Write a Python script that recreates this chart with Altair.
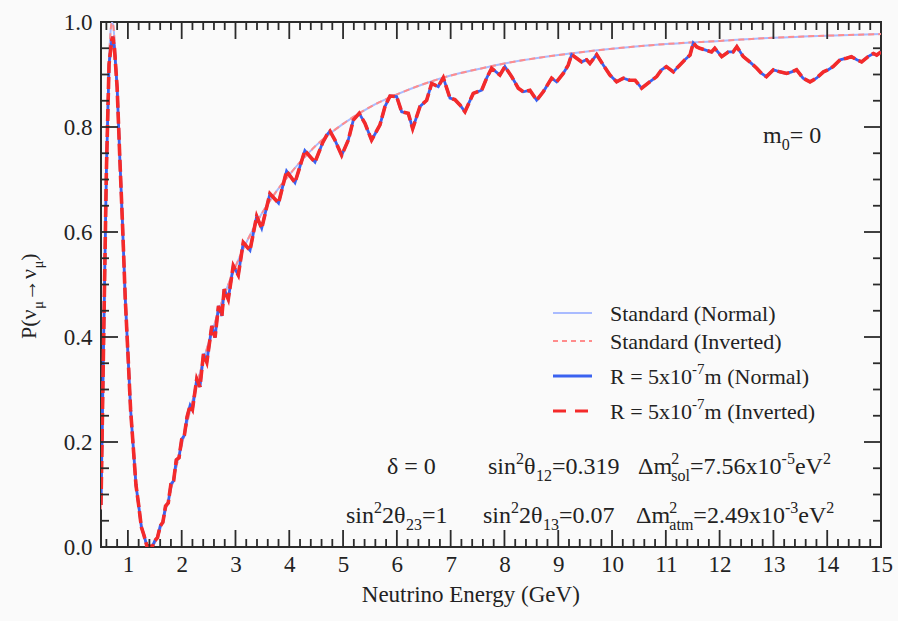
import altair as alt
import pandas as pd

# ------------------------------------------------------------------ data
# Standard oscillation curve
E_std = [0.5, 0.525, 0.55, 0.575, 0.6, 0.625, 0.65, 0.675, 0.7, 0.725, 0.75, 0.775, 0.8, 0.85, 0.9,
         0.95, 1.0, 1.05, 1.1, 1.15, 1.2, 1.25, 1.3, 1.35, 1.4,
         1.45, 1.5, 1.6, 1.7, 1.8, 1.9, 2.0, 2.2, 2.4, 2.6,
         2.8, 3.0, 3.25, 3.5, 3.75, 4.0, 4.5, 5.0, 5.5, 6.0,
         6.5, 7.0, 7.5, 8.0, 9.0, 10.0, 11.0, 12.0, 13.0, 14.0, 15.0]
P_std = [0.072, 0.217, 0.391, 0.566, 0.719, 0.841, 0.927, 0.978, 0.999, 0.995, 0.967, 0.925, 0.871, 0.744, 0.610,
         0.481, 0.366, 0.268, 0.187, 0.124, 0.076, 0.042, 0.019, 0.005, 0.000,
         0.002, 0.008, 0.033, 0.069, 0.109, 0.153, 0.194, 0.278, 0.354, 0.422,
         0.482, 0.534, 0.590, 0.637, 0.676, 0.709, 0.765, 0.806, 0.838, 0.862,
         0.882, 0.898, 0.910, 0.921, 0.937, 0.949, 0.958, 0.964, 0.970, 0.974, 0.977]

# R = 5x10^-7 m curve
E_r = [0.50, 0.55, 0.60, 0.65, 0.70, 0.72, 0.75, 0.80, 0.85, 0.90,
       0.95, 1.00, 1.05, 1.10, 1.15, 1.20, 1.25, 1.30, 1.35, 1.40,
       1.45, 1.50, 1.55, 1.60, 1.65, 1.70, 1.75, 1.80, 1.85, 1.90,
       1.95, 2.00, 2.05, 2.10, 2.157, 2.20, 2.28, 2.34, 2.405, 2.467,
       2.56, 2.62, 2.684, 2.747, 2.79, 2.866, 2.959, 3.052, 3.145, 3.27,
       3.394, 3.487, 3.64, 3.80, 3.95, 4.106, 4.29, 4.478, 4.62, 4.70,
       4.757, 4.849, 4.974, 5.097, 5.19, 5.30, 5.407, 5.53, 5.686, 5.779,
       5.872, 5.996, 6.089, 6.212, 6.294, 6.43, 6.554, 6.647, 6.77, 6.863,
       6.987, 7.08, 7.173, 7.266, 7.42, 7.576, 7.669, 7.762, 7.916, 8.009,
       8.134, 8.257, 8.35, 8.474, 8.598, 8.721, 8.877, 8.97, 9.093, 9.186,
       9.249, 9.342, 9.435, 9.528, 9.589, 9.714, 9.837, 9.961, 10.085, 10.21,
       10.33, 10.43, 10.55, 10.70, 10.83, 10.92, 11.01, 11.14, 11.23, 11.355,
       11.45, 11.51, 11.57, 11.63, 11.727, 11.85, 11.91, 12.04, 12.16, 12.25,
       12.32, 12.44, 12.56, 12.69, 12.78, 12.87, 13.0, 13.12, 13.245, 13.34,
       13.43, 13.55, 13.68, 13.80, 13.93, 14.02, 14.11, 14.24, 14.36, 14.45,
       14.55, 14.64, 14.76, 14.86, 14.92, 15.0]
P_r = [0.08, 0.40, 0.715, 0.92, 0.965, 0.972, 0.95, 0.875, 0.74, 0.615,
       0.475, 0.37, 0.262, 0.19, 0.118, 0.08, 0.038, 0.022, 0.003, 0.002,
       0.0, 0.012, 0.018, 0.04, 0.047, 0.078, 0.084, 0.12, 0.126, 0.166,
       0.17, 0.205, 0.213, 0.248, 0.270, 0.262, 0.320, 0.305, 0.368, 0.352,
       0.421, 0.399, 0.459, 0.440, 0.491, 0.472, 0.536, 0.518, 0.580, 0.565,
       0.630, 0.607, 0.673, 0.655, 0.716, 0.694, 0.755, 0.733, 0.770, 0.785,
       0.792, 0.775, 0.746, 0.775, 0.813, 0.826, 0.807, 0.775, 0.804, 0.839,
       0.859, 0.858, 0.829, 0.826, 0.797, 0.839, 0.851, 0.883, 0.877, 0.894,
       0.855, 0.852, 0.842, 0.829, 0.864, 0.870, 0.893, 0.912, 0.899, 0.915,
       0.896, 0.874, 0.867, 0.870, 0.851, 0.867, 0.893, 0.886, 0.902, 0.918,
       0.938, 0.931, 0.924, 0.928, 0.921, 0.938, 0.918, 0.899, 0.886, 0.893,
       0.889, 0.889, 0.874, 0.886, 0.896, 0.909, 0.915, 0.905, 0.915, 0.928,
       0.937, 0.960, 0.953, 0.950, 0.947, 0.943, 0.950, 0.934, 0.943, 0.943,
       0.953, 0.934, 0.924, 0.912, 0.902, 0.896, 0.909, 0.905, 0.902, 0.905,
       0.909, 0.893, 0.886, 0.893, 0.905, 0.909, 0.915, 0.928, 0.931, 0.934,
       0.928, 0.924, 0.934, 0.940, 0.937, 0.943]

x_tick_labels = list(range(1, 16))
y_tick_labels = [0.0, 0.2, 0.4, 0.6, 0.8, 1.0]

series_labels = [
    [("n", "Standard (Normal)")],
    [("n", "Standard (Inverted)")],
    [("n", "R = 5x10"), ("sup", "-7"), ("n", "m (Normal)")],
    [("n", "R = 5x10"), ("sup", "-7"), ("n", "m (Inverted)")],
]
x_title = "Neutrino Energy (GeV)"
y_title = [("n", "P(ν"), ("sub", "μ"), ("n", "→ν"), ("sub", "μ"), ("n", ")")]
m0_label = [("n", "m"), ("sub", "0"), ("n", " = 0")]
delta_label = [("n", "δ = 0")]
s12_label = [("n", "sin"), ("sup", "2"), ("n", "θ"), ("sub", "12"), ("n", "=0.319")]
dmsol_label = [("n", "Δm"), ("ss", "2", "sol"), ("n", "=7.56x10"), ("sup", "-5"), ("n", "eV"), ("sup", "2")]
s23_label = [("n", "sin"), ("sup", "2"), ("n", "2θ"), ("sub", "23"), ("n", "=1")]
s13_label = [("n", "sin"), ("sup", "2"), ("n", "2θ"), ("sub", "13"), ("n", "=0.07")]
dmatm_label = [("n", "Δm"), ("ss", "2", "atm"), ("n", "=2.49x10"), ("sup", "-3"), ("n", "eV"), ("sup", "2")]

# ------------------------------------------------------------------ layout / style
W, H = 780, 525
X0, X1 = 0.5, 15.0
SERIF = "Liberation Serif, Times New Roman, Times, DejaVu Serif, serif"
TXT = "#222222"
FRAME = "#2b2b2b"
BG = "#fafafa"
C_STD_N, C_STD_I = "#a9bbff", "#ff8c8c"
C_R_N, C_R_I = "#3a62f0", "#f42a2a"

XS = alt.Scale(domain=[X0, X1], nice=False, zero=False)
YS = alt.Scale(domain=[0, 1], nice=False, zero=False)
XAX = alt.Axis(values=x_tick_labels, labelFont=SERIF, labelFontSize=23, labelColor=TXT,
               ticks=False, tickSize=0, domain=False, grid=False, title=None, labelPadding=6,
               labelFlush=False, labelOverlap=False)
YAX = alt.Axis(values=y_tick_labels, format=".1f", labelFont=SERIF, labelFontSize=23, labelColor=TXT,
               ticks=False, tickSize=0, domain=False, grid=False, title=None, labelPadding=9,
               labelFlush=False, labelOverlap=False)


def xenc():
    return alt.X("E:Q", scale=XS, axis=XAX)


def yenc():
    return alt.Y("P:Q", scale=YS, axis=YAX)


def to_data(px, py):
    return X0 + px / W * (X1 - X0), 1 - py / H


CW = {' ': 250, '(': 333, ')': 333, '.': 250, '=': 564, '-': 333, 'x': 500, 'e': 444, 'V': 722,
      's': 389, 'i': 278, 'n': 500, 'm': 778, 'l': 278, 'o': 500, 'a': 444, 't': 278, 'd': 500,
      'r': 333, 'S': 556, 'N': 722, 'I': 333, 'R': 667, 'v': 500, 'δ': 500, 'θ': 500, 'Δ': 612,
      'μ': 520, 'ν': 480, '→': 1000, 'P': 556, 'E': 611, 'G': 722, 'u': 500, 'g': 500, 'y': 500}


def tw(s, size):
    return sum(CW.get(c, 500) for c in s) / 1000 * size


def compose(pieces, x0, y0, base, rotate=False):
    small = round(base * 0.68)
    rows, pos = [], 0.0

    def put(text, size, dy, adv):
        if rotate:
            px, py = x0 + dy, y0 - pos
        else:
            px, py = x0 + pos, y0 + dy
        e, p = to_data(px, py)
        rows.append({"text": text, "E": e, "P": p, "size": size})
        return adv

    for pc in pieces:
        kind = pc[0]
        if kind == "n":
            pos += put(pc[1], base, 0, tw(pc[1], base))
        elif kind == "sup":
            pos += put(pc[1], small, -0.42 * base, tw(pc[1], small))
        elif kind == "sub":
            pos += put(pc[1], small, 0.30 * base, tw(pc[1], small))
        elif kind == "ss":
            a = put(pc[1], small, -0.42 * base, tw(pc[1], small))
            b = put(pc[2], small, 0.30 * base, tw(pc[2], small))
            pos += max(a, b)
    return rows


layers = []

# ---- curves
df_std = pd.DataFrame({"E": E_std, "P": P_std})
df_r = pd.DataFrame({"E": E_r, "P": P_r})
layers.append(alt.Chart(df_std).mark_line(color=C_STD_N, strokeWidth=2, interpolate="monotone", clip=True)
              .encode(x=xenc(), y=yenc()))
layers.append(alt.Chart(df_std).mark_line(color=C_STD_I, strokeWidth=2, strokeDash=[6, 4],
                                          interpolate="monotone", clip=True)
              .encode(x=xenc(), y=yenc()))
layers.append(alt.Chart(df_r).mark_line(color=C_R_N, strokeWidth=2.8, clip=True)
              .encode(x=xenc(), y=yenc()))
layers.append(alt.Chart(df_r).mark_line(color=C_R_I, strokeWidth=3.6, strokeDash=[12, 4], clip=True)
              .encode(x=xenc(), y=yenc()))

# ---- inward ticks on all four sides
x_major = [v for v in x_tick_labels if X0 < v < X1]
x_minor = [round(0.6 + 0.2 * i, 1) for i in range(72)]
x_minor = [v for v in x_minor if abs(v - round(v)) > 1e-6]
y_major = [0.2, 0.4, 0.6, 0.8]
y_minor = [round(0.05 * i, 2) for i in range(1, 20)]
y_minor = [v for v in y_minor if abs(v / 0.2 - round(v / 0.2)) > 1e-6]
for vals, ln in ((x_major, 17), (x_minor, 8)):
    d = pd.DataFrame({"E": vals})
    layers.append(alt.Chart(d).mark_rule(color=FRAME, strokeWidth=1.8)
                  .encode(x=xenc(), y=alt.value(H), y2=alt.value(H - ln)))
    layers.append(alt.Chart(d).mark_rule(color=FRAME, strokeWidth=1.8)
                  .encode(x=xenc(), y=alt.value(0), y2=alt.value(ln)))
for vals, ln in ((y_major, 17), (y_minor, 8)):
    d = pd.DataFrame({"P": vals})
    layers.append(alt.Chart(d).mark_rule(color=FRAME, strokeWidth=1.8)
                  .encode(y=yenc(), x=alt.value(0), x2=alt.value(ln)))
    layers.append(alt.Chart(d).mark_rule(color=FRAME, strokeWidth=1.8)
                  .encode(y=yenc(), x=alt.value(W), x2=alt.value(W - ln)))

# ---- legend (drawn inside the plot)
leg_rows_y = [291, 319, 354, 389]
leg_styles = [
    dict(color=C_STD_N, strokeWidth=2),
    dict(color=C_STD_I, strokeWidth=2, strokeDash=[5, 4]),
    dict(color=C_R_N, strokeWidth=3),
    dict(color=C_R_I, strokeWidth=3.2, strokeDash=[13, 9]),
]
text_rows = []
for yy, st, lab in zip(leg_rows_y, leg_styles, series_labels):
    layers.append(alt.Chart(pd.DataFrame({"k": [0]})).mark_rule(**st)
                  .encode(x=alt.value(452), x2=alt.value(491), y=alt.value(yy)))
    text_rows += compose(lab, 509, yy + 7.5, 22)

# ---- annotations
text_rows += compose(m0_label, 662, 121, 24)
text_rows += compose(delta_label, 286, 452, 24)
text_rows += compose(s12_label, 387, 452, 24)
text_rows += compose(dmsol_label, 537, 452, 24)
text_rows += compose(s23_label, 245, 501, 24)
text_rows += compose(s13_label, 382, 501, 24)
text_rows += compose(dmatm_label, 535, 501, 24)
text_rows += compose([("n", x_title)], 370 - tw(x_title, 23) / 2, 580, 23)

df_text = pd.DataFrame(text_rows)
layers.append(alt.Chart(df_text).mark_text(align="left", baseline="alphabetic", font=SERIF, color=TXT)
              .encode(x=xenc(), y=yenc(), text="text:N",
                      size=alt.Size("size:Q", scale=None, legend=None)))

df_ytitle = pd.DataFrame(compose(y_title, -65, 317, 22, rotate=True))
layers.append(alt.Chart(df_ytitle).mark_text(align="left", baseline="alphabetic", font=SERIF,
                                             color=TXT, angle=270)
              .encode(x=xenc(), y=yenc(), text="text:N",
                      size=alt.Size("size:Q", scale=None, legend=None)))

chart = (alt.layer(*layers)
         .properties(width=W, height=H, background=BG,
                     autosize=alt.AutoSizeParams(type="none"),
                     padding={"left": 101, "top": 22, "right": 17, "bottom": 74})
         .configure_view(stroke=FRAME, strokeWidth=2, fill=BG))

chart.save("out.html", embed_options={"renderer": "svg", "actions": False})
